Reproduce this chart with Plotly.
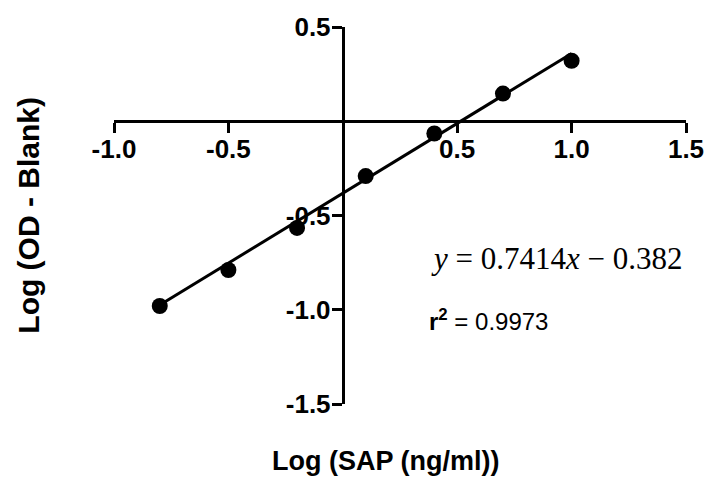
import plotly.graph_objects as go

# Standard curve: log concentration vs log blank-corrected OD
log_sap = [-0.8, -0.5, -0.2, 0.1, 0.4, 0.7, 1.0]
log_od = [-0.98, -0.789, -0.566, -0.291, -0.065, 0.147, 0.321]

# Linear fit reported on the chart
slope = 0.7414
intercept = -0.382
r_squared = 0.9973

x_ticks = [-1.0, -0.5, 0.5, 1.0, 1.5]
y_ticks = [-1.5, -1.0, -0.5, 0.5]
x_range = [-1.0, 1.5]
y_range = [-1.5, 0.5]

fit_x = [log_sap[0], log_sap[-1]]
fit_y = [slope * v + intercept for v in fit_x]

fig = go.Figure()
fig.add_trace(go.Scatter(
    x=fit_x, y=fit_y, mode="lines",
    line=dict(color="black", width=3),
    hoverinfo="skip", cliponaxis=False,
))
fig.add_trace(go.Scatter(
    x=log_sap, y=log_od, mode="markers",
    marker=dict(color="black", size=16),
    cliponaxis=False,
))

# Axes cross at the origin
x_pos = (0 - y_range[0]) / (y_range[1] - y_range[0])
y_pos = (0 - x_range[0]) / (x_range[1] - x_range[0])

tick_font = dict(family="Liberation Sans, Arial, sans-serif", size=26,
                 color="black", weight="bold")
axis_common = dict(
    showline=True, linecolor="black", linewidth=3,
    ticks="outside", ticklen=10, tickwidth=3, tickcolor="black",
    showgrid=False, zeroline=False, tickfont=tick_font,
    layer="below traces",
)

fig.update_layout(
    width=716, height=501,
    margin=dict(l=114, r=23, t=21, b=97),
    plot_bgcolor="white", paper_bgcolor="white",
    showlegend=False,
    xaxis=dict(
        range=x_range, tickvals=x_ticks,
        ticktext=[f"{v:.1f}" for v in x_ticks],
        anchor="free", position=x_pos, ticklabelstandoff=-6,
        **axis_common,
    ),
    yaxis=dict(
        range=y_range, tickvals=y_ticks,
        ticktext=[f"{v:.1f}" for v in y_ticks],
        anchor="free", position=y_pos, ticklabelstandoff=-4,
        **axis_common,
    ),
)

fig.add_annotation(
    text="<b>Log (SAP (ng/ml))</b>", xref="paper", yref="paper",
    x=0.475, y=-0.15, xanchor="center", yanchor="middle",
    showarrow=False,
    font=dict(family="Liberation Sans, Arial, sans-serif", size=27, color="black"),
)
fig.add_annotation(
    text="<b>Log (OD - Blank)</b>", xref="paper", yref="paper",
    x=-0.15, y=0.5, xanchor="center", yanchor="middle", textangle=-90,
    showarrow=False,
    font=dict(family="Liberation Sans, Arial, sans-serif", size=30, color="black"),
)
fig.add_annotation(
    text=f"<i>y</i> = {slope}<i>x</i> \u2212 {abs(intercept)}",
    xref="paper", yref="paper", x=0.551, y=0.386,
    xanchor="left", yanchor="middle", showarrow=False,
    font=dict(family="Liberation Serif, Times New Roman, serif", size=31, color="black"),
)
fig.add_annotation(
    text=f"<b>r<sup>2</sup></b> = {r_squared}",
    xref="paper", yref="paper", x=0.548, y=0.224,
    xanchor="left", yanchor="middle", showarrow=False,
    font=dict(family="Liberation Sans, Arial, sans-serif", size=24, color="black"),
)

fig.write_html("out.html")
